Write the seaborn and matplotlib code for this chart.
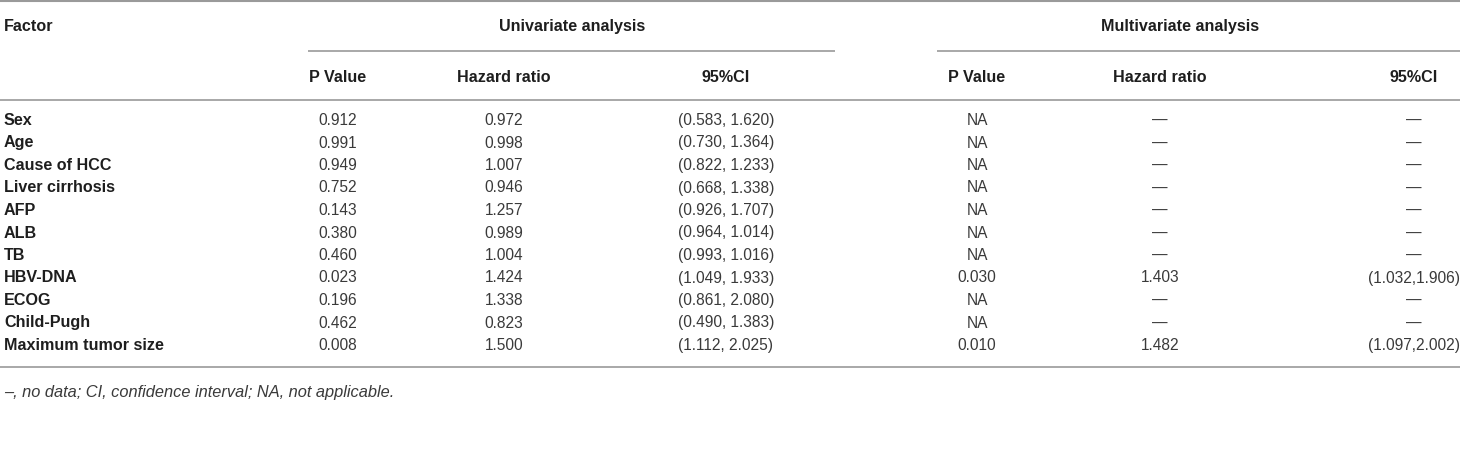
import matplotlib
matplotlib.use("Agg")
import matplotlib.pyplot as plt
import seaborn as sns

sns.set_theme(style="white")
plt.rcParams['font.family'] = ['Liberation Sans', 'DejaVu Sans']

factors = ["Sex", "Age", "Cause of HCC", "Liver cirrhosis", "AFP", "ALB", "TB",
           "HBV-DNA", "ECOG", "Child-Pugh", "Maximum tumor size"]
uni_p = ["0.912", "0.991", "0.949", "0.752", "0.143", "0.380", "0.460",
         "0.023", "0.196", "0.462", "0.008"]
uni_hr = ["0.972", "0.998", "1.007", "0.946", "1.257", "0.989", "1.004",
          "1.424", "1.338", "0.823", "1.500"]
uni_ci = ["(0.583, 1.620)", "(0.730, 1.364)", "(0.822, 1.233)", "(0.668, 1.338)",
          "(0.926, 1.707)", "(0.964, 1.014)", "(0.993, 1.016)", "(1.049, 1.933)",
          "(0.861, 2.080)", "(0.490, 1.383)", "(1.112, 2.025)"]
multi_p = ["NA", "NA", "NA", "NA", "NA", "NA", "NA", "0.030", "NA", "NA", "0.010"]
multi_hr = ["—", "—", "—", "—", "—", "—", "—", "1.403", "—", "—", "1.482"]
multi_ci = ["—", "—", "—", "—", "—", "—", "—", "(1.032,1.906)", "—", "—", "(1.097,2.002)"]
group_headers = ["Univariate analysis", "Multivariate analysis"]
sub_headers = ["P Value", "Hazard ratio", "95%CI"]
footnote = "–, no data; CI, confidence interval; NA, not applicable."

W, H = 1460, 455
fig = plt.figure(figsize=(W / 100, H / 100), dpi=100)
ax = fig.add_axes([0, 0, 1, 1])
ax.set_xlim(0, W)
ax.set_ylim(H, 0)
ax.axis("off")

line_c = "#9a9a9a"
txt_c = "#1e1e1e"
val_c = "#3a3a3a"
fs_b = 11.6
fs_v = 11.2

# horizontal rules
ax.plot([0, W], [1, 1], color=line_c, lw=1.5, solid_capstyle="butt")
ax.plot([308, 835], [51, 51], color=line_c, lw=1.2, solid_capstyle="butt")
ax.plot([937, W], [51, 51], color=line_c, lw=1.2, solid_capstyle="butt")
ax.plot([0, W], [100, 100], color=line_c, lw=1.2, solid_capstyle="butt")
ax.plot([0, W], [367, 367], color=line_c, lw=1.2, solid_capstyle="butt")

# headers
ax.text(4, 31, "Factor", ha="left", va="baseline", fontsize=fs_b, fontweight="bold", color=txt_c)
ax.text(572, 31, group_headers[0], ha="center", va="baseline", fontsize=fs_b, fontweight="bold", color=txt_c)
ax.text(1180, 31, group_headers[1], ha="center", va="baseline", fontsize=fs_b, fontweight="bold", color=txt_c)

col_x = [338, 504, 726, 977, 1160, 1414]
for i, x in enumerate(col_x):
    ax.text(x, 82, sub_headers[i % 3], ha="center", va="baseline", fontsize=fs_b,
            fontweight="bold", color=txt_c)

cols = [uni_p, uni_hr, uni_ci, multi_p, multi_hr, multi_ci]
y0, dy = 125, 22.5
for r, f in enumerate(factors):
    y = y0 + r * dy
    ax.text(4, y, f, ha="left", va="baseline", fontsize=fs_b, fontweight="bold", color=txt_c)
    for x, col in zip(col_x, cols):
        ax.text(x, y, col[r], ha="center", va="baseline", fontsize=fs_v, color=val_c)

ax.text(4, 397, footnote, ha="left", va="baseline", fontsize=11.8, style="italic", color=val_c)

fig.savefig("out.png", dpi=100)
